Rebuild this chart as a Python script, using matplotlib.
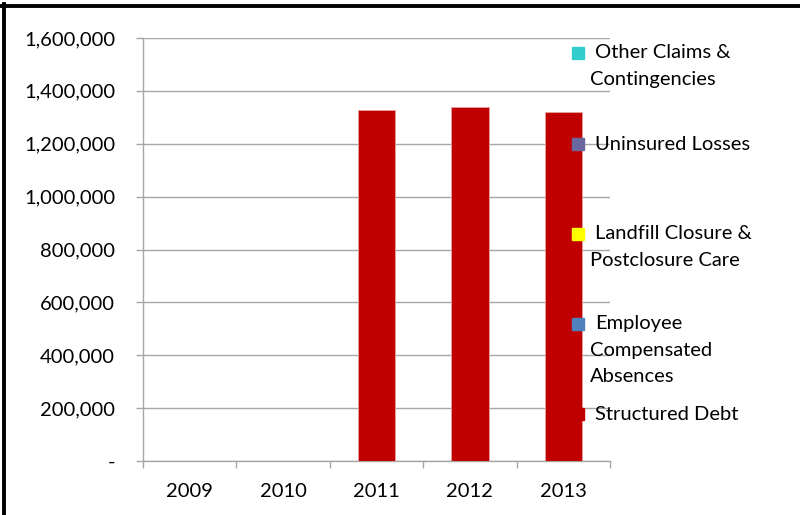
import matplotlib.pyplot as plt
from matplotlib.lines import Line2D
from matplotlib.patches import Rectangle
from matplotlib.ticker import FuncFormatter
import numpy as np

YEARS = ["2009", "2010", "2011", "2012", "2013"]
STRUCTURED_DEBT = [0, 0, 1326000, 1339000, 1319000]
EMPLOYEE_ABSENCES = [0, 0, 0, 0, 0]
LANDFILL = [0, 0, 0, 0, 0]
UNINSURED = [0, 0, 0, 0, 0]
OTHER_CLAIMS = [0, 0, 0, 0, 0]

SERIES = [
    ("Structured Debt", STRUCTURED_DEBT, "#C00000"),
    ("Employee\nCompensated\nAbsences", EMPLOYEE_ABSENCES, "#4F81BD"),
    ("Landfill Closure &\nPostclosure Care", LANDFILL, "#FFFF00"),
    ("Uninsured Losses", UNINSURED, "#69679E"),
    ("Other Claims &\nContingencies", OTHER_CLAIMS, "#33CCCC"),
]

GRID = "#A6A6A6"
W, H = 800, 515

plt.rcParams.update({"font.family": ["Lato", "DejaVu Sans"], "font.size": 14.5})

fig = plt.figure(figsize=(8, 5.15), dpi=100)
ax = fig.add_axes([143 / W, 1 - 461 / H, (610 - 143) / W, (461 - 38) / H])

x = np.arange(len(YEARS))
bottom = np.zeros(len(YEARS))
for name, vals, color in SERIES:
    vals = np.array(vals, dtype=float)
    ax.bar(x, vals, width=0.4, bottom=bottom, color=color,
           edgecolor="#E8A0A0" if vals.any() else "none", linewidth=0.6, zorder=3)
    bottom += vals

ax.set_xlim(-0.5, len(YEARS) - 0.5)
ax.set_ylim(0, 1600000)
ax.set_yticks(np.arange(0, 1600001, 200000))
ax.yaxis.set_major_formatter(FuncFormatter(lambda v, p: "-" if v == 0 else f"{v:,.0f}"))
ax.grid(axis="y", color=GRID, linewidth=1, zorder=0)

ax.set_xticks(x)
ax.set_xticklabels(YEARS)
ax.set_xticks(np.arange(-0.5, len(YEARS)), minor=True)
ax.tick_params(axis="x", which="major", length=0, pad=16, labelcolor="black")
ax.tick_params(axis="x", which="minor", length=5, color=GRID, width=1)
ax.tick_params(axis="y", length=5, color=GRID, width=1, pad=15, labelcolor="black")

for s in ["top", "right"]:
    ax.spines[s].set_visible(False)
for s in ["left", "bottom"]:
    ax.spines[s].set_color(GRID)
    ax.spines[s].set_linewidth(1)

# legend drawn by hand, entries placed like the Excel legend (pixel coords)
legend_rows = [53, 144, 234, 324, 414]
for ypix, (name, vals, color) in zip(legend_rows, SERIES[::-1]):
    fig.add_artist(Rectangle((572 / W, 1 - (ypix + 6) / H), 12 / W, 12 / H,
                             transform=fig.transFigure, color=color, zorder=5))
    for i, line in enumerate(name.split("\n")):
        xl = 595 if i == 0 else 590
        fig.text(xl / W, 1 - (ypix + i * 26.5) / H, line, ha="left", va="center", zorder=6)

# black frame of the cropped screenshot
fig.add_artist(Line2D([0, 1], [1 - 5.5 / H, 1 - 5.5 / H], color="black", linewidth=2.8,
                      transform=fig.transFigure))
fig.add_artist(Line2D([3.5 / W, 3.5 / W], [0, 1 - 4 / H], color="black", linewidth=2.8,
                      transform=fig.transFigure))

fig.savefig("out.png", dpi=100)
